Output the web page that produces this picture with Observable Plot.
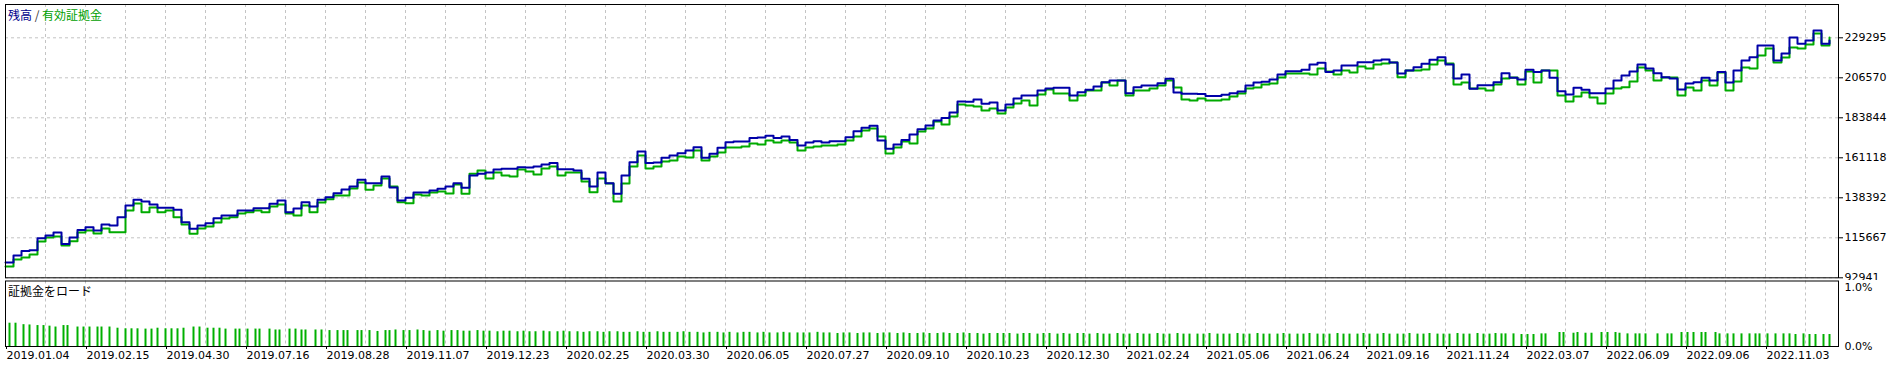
<!DOCTYPE html>
<html><head><meta charset="utf-8">
<script src="https://cdn.jsdelivr.net/npm/d3@7"></script>
<script src="https://cdn.jsdelivr.net/npm/@observablehq/plot@0.6"></script>
<style>
body{margin:0;background:#fff;}
#wrap{position:relative;width:1893px;height:366px;overflow:hidden;background:#fff;font-family:"DejaVu Sans",sans-serif;}
#main{position:absolute;left:0;top:0;}
#sub{position:absolute;left:0;top:280px;}
.lbl{position:absolute;font-family:"Noto Sans CJK JP",sans-serif;font-size:12px;line-height:12px;white-space:nowrap;}
</style>
</head><body>
<div id="wrap">
  <div id="main"></div>
  <div id="sub"></div>
  <div class="lbl" style="left:8px;top:9px;"><span style="color:#00008b">残高</span><span style="color:#333"> / </span><span style="color:#00a000">有効証拠金</span></div>
  <div class="lbl" style="left:8px;top:285px;color:#000">証拠金をロード</div>
</div>
<script>
// ---- data ----
const balance = [101600,105600,108200,108600,115400,117000,118700,112100,115800,120100,
121700,119800,123200,122700,127400,134000,137300,136300,134600,132700,
132700,131600,124500,120800,122700,124000,126800,128300,128300,131200,
131200,132500,132500,135000,136900,130200,132300,135900,133400,137300,
138700,141000,143100,144800,148600,146700,146700,150500,144200,136900,
138400,141400,141400,142500,143500,144800,146700,144100,151100,152000,
152800,154500,154900,154900,155800,155600,156200,157300,158100,154600,
154600,153900,149200,144800,152800,146700,140700,151100,158600,164700,
158100,158400,161100,162400,163700,165300,167100,161100,163400,166800,
170000,170400,170400,172300,172700,173600,172300,173200,171300,168100,
169800,170500,169800,170500,170500,172800,176200,178200,179300,170900,
166200,168700,171300,174400,177400,179500,182300,183800,186900,193100,
192900,194200,191800,192500,188000,191400,194800,196500,196500,199400,
200500,200900,200900,196500,198400,199800,201600,204100,205000,205000,
197800,201200,202200,202200,203500,206000,198200,197500,197500,197300,
196300,196300,196900,197800,198800,202200,203900,204300,205600,208400,
210300,210300,211100,214100,215100,209800,210700,213600,213600,215400,
215400,216400,217000,215300,209000,210700,212600,214500,216800,218300,
214100,206200,208400,200300,202400,202400,204100,209200,206600,205600,
211100,209800,210700,206600,199000,197100,200900,199800,197800,197800,
200500,205000,207900,210100,214100,211900,209200,206900,206200,199900,
203300,204100,206600,205000,209800,203900,210700,216400,218300,224900,
224900,216400,220400,229500,225900,227800,233400,225900,227800];

const equity = [99400,103300,104500,106200,113600,115800,116400,111300,113700,118700,
119800,118100,121000,118800,118800,131200,135200,130200,132900,130200,
131200,127400,123200,117900,121000,122100,124400,126600,127400,129500,
130200,131200,130200,133400,134600,129500,128300,134000,130200,135700,
137600,139700,139700,143700,147100,142900,145400,149400,144800,135900,
135300,140300,139700,141400,142000,140800,145900,140700,152000,153900,
149400,152800,151100,150500,154500,153300,151600,155000,156200,151100,
152800,152800,147700,141600,149400,146500,136300,146500,156200,162400,
155000,156200,159000,159600,161900,161300,165300,159600,161900,164100,
167000,167000,167500,169200,168700,170900,169800,170900,169800,165300,
167000,167500,168100,168100,168700,170900,173200,176600,177800,173200,
163600,167000,170400,169200,176100,177800,181700,180000,184600,191400,
190800,190300,188000,189100,186300,189700,192000,193700,190800,197100,
199900,197600,197600,193700,196500,199400,199400,203900,202200,205000,
196500,199400,199400,200500,202200,205000,201100,194200,193700,194800,
193700,193700,194200,195900,197600,200500,201100,202800,203300,206700,
209000,209000,209000,208400,211900,210100,208400,210700,209600,213000,
211900,214100,214700,215300,206900,210700,210700,211300,214100,216400,
214700,202800,203900,200500,200500,199400,202800,206200,206700,202800,
210100,203900,210700,210700,196500,193100,195900,198200,195400,192000,
197600,200500,201200,204500,212400,210700,205000,206700,206700,196500,
201100,199400,205000,202200,209600,199400,204500,212400,211900,219200,
223200,215300,218100,223800,223200,225500,231700,224900,229500];

// margin load bars: deal number and load (%)
const barDeals = [2,5,9,12,16,19,22,25,29,31,36,39,42,46,48,52,56,60,63,66,70,73,76,80,83,86,89,94,97,101,104,107,110,115,117,121,125,127,132,135,137,142,145,148,150,155,158,162,166,169,171,176,178,182,186,190,192,195,
199,202,206,209,212,216,219,223,226,229,
232,236,239,242,246,249,252,256,259,262,
265,269,272,276,279,282,286,289,292,296,
299,302,306,309,312,316,319,322,326,329,
332,336,339,342,346,349,352,356,359,362,
366,369,372,376,379,382,386,389,392,396,
399,402,406,409,412,416,419,422,426,429,
432,436,439,442,446,449,452,456,459,462,
466,469,472,476,479,482,486,489,492,496,
499,502,506,509,512,516,519,522,526,529,
532,536,539,542,546,549,552,556,559,562,
566,569,572,576,579,582,586,589,592,596,
599,602,606,609,612,616,619,622,626,629,
632,636,639,642,646,649,652,656,659,662,
666,669,672,676,679,682,686,689,692,696,
699,702,706,709,712,716,719,722,726,729,
732,736,739,742,745,
748,750,754,758,761,764,768,770,777,779,784,786,790,793,798,801,805,807,811,815,817,820,826,831,833,838,841,844,848,850,855,857,861,864,868,872,875,877,881,885,889,892,895,899,902,905,909,912];
const barLoad = [0.395,0.395,0.37,0.365,0.355,0.355,0.345,0.33,0.355,0.355,0.33,0.33,0.33,0.33,0.33,0.33,0.31,0.30,0.30,0.30,0.295,0.295,0.31,0.30,0.30,0.30,0.31,0.33,0.33,0.31,0.31,0.31,0.295,0.295,0.295,0.295,0.295,0.295,0.295,0.28,0.28,0.295,0.295,0.28,0.28,0.28,0.28,0.27,0.27,0.27,0.27,0.27,0.27,0.27,0.255,0.27,0.27,0.28,
0.27,0.27,0.28,0.27,0.26,0.27,0.26,0.27,0.27,0.26,
0.26,0.27,0.26,0.26,0.25,0.26,0.26,0.25,0.26,0.25,
0.25,0.26,0.25,0.25,0.26,0.25,0.25,0.24,0.25,0.25,
0.24,0.25,0.25,0.24,0.24,0.25,0.24,0.24,0.25,0.24,
0.24,0.24,0.25,0.24,0.24,0.23,0.24,0.24,0.23,0.24,
0.23,0.24,0.24,0.23,0.24,0.23,0.23,0.24,0.23,0.23,
0.23,0.23,0.24,0.23,0.23,0.22,0.23,0.23,0.22,0.23,
0.23,0.22,0.23,0.23,0.22,0.23,0.22,0.22,0.23,0.22,
0.22,0.23,0.22,0.22,0.23,0.22,0.22,0.21,0.22,0.22,
0.22,0.22,0.21,0.22,0.22,0.21,0.22,0.22,0.21,0.22,
0.21,0.22,0.22,0.21,0.22,0.21,0.21,0.22,0.21,0.21,
0.22,0.21,0.21,0.22,0.21,0.21,0.22,0.21,0.21,0.21,
0.21,0.22,0.21,0.21,0.21,0.22,0.21,0.21,0.22,0.21,
0.21,0.21,0.22,0.21,0.21,0.21,0.22,0.21,0.21,0.21,
0.22,0.21,0.21,0.21,0.22,0.21,0.21,0.22,0.21,0.21,
0.21,0.22,0.21,0.21,0.22,0.21,0.21,0.21,0.22,0.21,
0.21,0.22,0.21,0.21,0.22,
0.214,0.214,0.214,0.203,0.203,0.203,0.214,0.214,0.237,0.237,0.225,0.237,0.225,0.225,0.237,0.237,0.237,0.225,0.214,0.214,0.214,0.214,0.214,0.214,0.214,0.237,0.237,0.237,0.237,0.237,0.237,0.214,0.214,0.214,0.214,0.214,0.214,0.214,0.214,0.214,0.214,0.214,0.203,0.214,0.203,0.203,0.203,0.203];

const yTicks = [92941,115667,138392,161118,183844,206570,229295];
const yTickLabels = ["92941","115667","138392","161118","183844","206570","229295"];
const xTickDeals = [0,40,80,120,160,200,240,280,320,360,400,440,480,520,560,600,640,680,720,760,800,840,880];
const xTickLabels = ["2019.01.04","2019.02.15","2019.04.30","2019.07.16","2019.08.28","2019.11.07","2019.12.23","2020.02.25","2020.03.30","2020.06.05","2020.07.27","2020.09.10","2020.10.23","2020.12.30","2021.02.24","2021.05.06","2021.06.24","2021.09.16","2021.11.24","2022.03.07","2022.06.09","2022.09.06","2022.11.03"];
const pctTicks = [0, 1];
const pctLabels = ["0.0%", "1.0%"];

// ---- build ----
const deals = d3.range(0, 913, 4);
const balData = balance.map((v, i) => ({deal: deals[i], v}));
const eqData = equity.map((v, i) => ({deal: deals[i], v}));
const bars = barDeals.map((d, i) => ({deal: d, load: barLoad[i]})).filter(d => d.load != null);
const gridDeals = d3.range(20, 901, 20);

const gridStyle = {stroke: "#c4c4c4", strokeOpacity: 1, strokeDasharray: "3,3"};
const baseStyle = {fontFamily: "DejaVu Sans", fontSize: "11px", color: "#000", overflow: "visible"};

const main = Plot.plot({
  width: 1893, height: 280,
  marginLeft: 5, marginRight: 55, marginTop: 4, marginBottom: 2.7,
  x: {domain: [0, 916.5], axis: null},
  y: {domain: [92941, 248216], axis: null},
  style: {...baseStyle, background: "transparent"},
  marks: [
    Plot.gridX(gridDeals, gridStyle),
    Plot.gridY(yTicks, gridStyle),
    Plot.lineY(eqData, {x: "deal", y: "v", stroke: "#00aa00", strokeWidth: 2, curve: "step-after"}),
    Plot.lineY(balData, {x: "deal", y: "v", stroke: "#0000a8", strokeWidth: 2, curve: "step-after"}),
    Plot.frame({stroke: "#000"}),
    Plot.axisY(yTicks, {anchor: "right", label: null, tickSize: 4, tickPadding: 2, fontSize: 11,
      tickFormat: d => yTickLabels[yTicks.indexOf(d)]})
  ]
});
document.getElementById("main").appendChild(main);

const sub = Plot.plot({
  width: 1893, height: 86,
  marginLeft: 5, marginRight: 55, marginTop: 0.5, marginBottom: 20,
  x: {domain: [0, 916.5], axis: null},
  y: {domain: [0, 1.11], axis: null},
  style: {...baseStyle, background: "#fff"},
  marks: [
    Plot.gridX(gridDeals, gridStyle),
    Plot.ruleX(bars, {x: "deal", y1: 0, y2: "load", stroke: "#00b000", strokeWidth: 2}),
    Plot.frame({stroke: "#000"}),
    Plot.axisY(pctTicks, {anchor: "right", label: null, tickSize: 0, tickPadding: 6, fontSize: 11,
      tickFormat: d => pctLabels[pctTicks.indexOf(d)]}),
    Plot.axisX(xTickDeals, {anchor: "bottom", label: null, tickSize: 3, tickPadding: 2, textAnchor: "start", dx: 1, fontSize: 11,
      tickFormat: d => xTickLabels[xTickDeals.indexOf(d)]})
  ]
});
document.getElementById("sub").appendChild(sub);
</script>
</body></html>
